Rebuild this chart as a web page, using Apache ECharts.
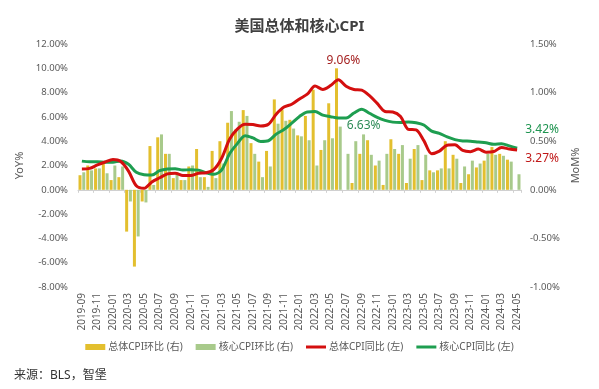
<!DOCTYPE html>
<html>
<head>
<meta charset="utf-8">
<script src="https://cdn.jsdelivr.net/npm/echarts@6/dist/echarts.min.js"></script>
<style>
html,body{margin:0;padding:0;background:#fff;}
#chart{width:599px;height:389px;}
</style>
</head>
<body>
<div id="chart"></div>
<script>
// Categories (months)
const months = [
  '2019-09','2019-10','2019-11','2019-12',
  '2020-01','2020-02','2020-03','2020-04','2020-05','2020-06','2020-07','2020-08','2020-09','2020-10','2020-11','2020-12',
  '2021-01','2021-02','2021-03','2021-04','2021-05','2021-06','2021-07','2021-08','2021-09','2021-10','2021-11','2021-12',
  '2022-01','2022-02','2022-03','2022-04','2022-05','2022-06','2022-07','2022-08','2022-09','2022-10','2022-11','2022-12',
  '2023-01','2023-02','2023-03','2023-04','2023-05','2023-06','2023-07','2023-08','2023-09','2023-10','2023-11','2023-12',
  '2024-01','2024-02','2024-03','2024-04','2024-05'
];
// Headline CPI MoM (%), right axis
const headlineMoM = [
  0.15,0.25,0.22,0.29,
  0.10,0.13,-0.43,-0.79,-0.12,0.45,0.54,0.37,0.12,0.10,0.24,0.42,
  0.13,0.40,0.50,0.69,0.62,0.82,0.48,0.29,0.40,0.93,0.82,0.72,
  0.56,0.76,1.03,0.41,0.89,1.25,0.00,0.07,0.37,0.51,0.25,0.05,
  0.52,0.37,0.07,0.42,0.10,0.20,0.20,0.50,0.36,0.07,0.16,0.23,
  0.30,0.44,0.37,0.31,0.00
];
// Core CPI MoM (%), right axis
const coreMoM = [
  0.18,0.20,0.22,0.17,
  0.25,0.24,-0.12,-0.48,-0.13,0.05,0.57,0.37,0.18,0.10,0.25,0.13,
  0.03,0.12,0.27,0.81,0.70,0.76,0.37,0.13,0.24,0.68,0.71,0.63,
  0.55,0.51,0.25,0.51,0.53,0.65,0.37,0.50,0.57,0.36,0.30,0.37,
  0.42,0.46,0.32,0.46,0.36,0.18,0.22,0.22,0.32,0.24,0.30,0.27,
  0.37,0.36,0.35,0.29,0.16
];
// Headline CPI YoY (%), left axis
const headlineYoY = [
  1.71,1.76,2.05,2.29,
  2.49,2.33,1.54,0.33,0.12,0.65,0.99,1.31,1.37,1.18,1.17,1.36,
  1.40,1.68,2.62,4.16,4.99,5.39,5.37,5.25,5.39,6.22,6.81,7.04,
  7.48,7.87,8.54,8.26,8.58,9.06,8.52,8.26,8.20,7.75,7.11,6.45,
  6.41,6.04,4.98,4.93,4.05,2.97,3.18,3.67,3.70,3.24,3.14,3.35,
  3.09,3.15,3.48,3.36,3.27
];
// Core CPI YoY (%), left axis
const coreYoY = [
  2.36,2.30,2.30,2.26,
  2.27,2.37,2.10,1.44,1.24,1.21,1.57,1.71,1.73,1.63,1.65,1.62,
  1.40,1.28,1.65,2.96,3.80,4.45,4.27,3.98,4.04,4.58,4.96,5.48,
  6.04,6.41,6.44,6.14,6.02,5.91,5.90,6.32,6.63,6.30,5.96,5.71,
  5.57,5.54,5.59,5.52,5.33,4.83,4.65,4.35,4.13,4.02,4.00,3.93,
  3.87,3.75,3.80,3.62,3.42
];
const seriesNames = ['总体CPI环比 (右)','核心CPI环比 (右)','总体CPI同比 (左)','核心CPI同比 (左)'];
const titleText = '美国总体和核心CPI';
const sourceText = '来源：BLS，智堡';

const GOLD = '#E3BF2E', LGREEN = '#A8CA8B', RED = '#D40F0F', GREEN = '#1E9E50';
const AX = '#595959';
const FONT = '"Noto Sans","Noto Sans CJK SC",sans-serif';
const LINE_ICON = 'path://M0,0 L20,0 L20,3 L0,3 Z';

const chart = echarts.init(document.getElementById('chart'), null, {renderer:'canvas'});
const pct = v => v.toFixed(2) + '%';

chart.setOption({
  animation: false,
  textStyle: {fontFamily: FONT},
  title: [
    {text: titleText, left: 'center', top: 14,
     textStyle: {fontSize: 15, fontWeight: 'bold', color: '#404040', fontFamily: FONT}},
    {text: sourceText, left: 9, top: 365,
     textStyle: {fontSize: 12, fontWeight: 'normal', color: '#333', fontFamily: FONT}}
  ],
  legend: {
    top: 337, left: 'center', itemGap: 13, itemWidth: 20, itemHeight: 6,
    symbolKeepAspect: true,
    textStyle: {fontSize: 10, color: AX, padding: [0, 0, 0, -2]},
    data: [
      {name: seriesNames[0], icon: 'rect'},
      {name: seriesNames[1], icon: 'rect'},
      {name: seriesNames[2], icon: LINE_ICON},
      {name: seriesNames[3], icon: LINE_ICON}
    ]
  },
  grid: {left: 78, right: 78, top: 44, height: 243, containLabel: false},
  xAxis: [
    {type: 'category', data: months, position: 'bottom',
     axisLine: {show: false, onZero: false}, axisTick: {show: false},
     axisLabel: {interval: 1, rotate: 90, fontSize: 10, color: AX, margin: 6}},
    {type: 'category', data: months, position: 'top',
     axisLine: {show: true, onZero: true, lineStyle: {color: '#D0D0D0', width: 1}},
     axisTick: {show: true, inside: true, interval: 1, length: 3, lineStyle: {color: '#D0D0D0'}},
     axisLabel: {show: false}}
  ],
  yAxis: [
    {type: 'value', min: -8, max: 12, interval: 2, position: 'left',
     name: 'YoY%', nameLocation: 'middle', nameGap: 42, nameRotate: 90,
     nameTextStyle: {fontSize: 11, color: AX},
     axisLine: {show: false}, axisTick: {show: false}, splitLine: {show: false},
     axisLabel: {formatter: pct, fontSize: 9.5, color: AX, margin: 10}},
    {type: 'value', min: -1, max: 1.5, interval: 0.5, position: 'right',
     name: 'MoM%', nameLocation: 'middle', nameGap: 42, nameRotate: 90,
     nameTextStyle: {fontSize: 11, color: AX},
     axisLine: {show: false}, axisTick: {show: false}, splitLine: {show: false},
     axisLabel: {formatter: pct, fontSize: 9.5, color: AX, margin: 9}}
  ],
  series: [
    {name: seriesNames[0], type: 'bar', xAxisIndex: 0, yAxisIndex: 1, data: headlineMoM,
     barWidth: 3, barGap: '25%', itemStyle: {color: GOLD}, z: 2},
    {name: seriesNames[1], type: 'bar', xAxisIndex: 0, yAxisIndex: 1, data: coreMoM,
     barWidth: 3, barGap: '25%', itemStyle: {color: LGREEN}, z: 2},
    {name: seriesNames[2], type: 'line', xAxisIndex: 0, yAxisIndex: 0, data: headlineYoY,
     symbol: 'none', smooth: 0.3, lineStyle: {color: RED, width: 3}, itemStyle: {color: RED}, z: 4,
     markPoint: {symbol: 'circle', symbolSize: 0, silent: true,
       label: {show: true, formatter: p => pct(p.value), fontSize: 12, position: 'inside'},
       data: [
         {coord: [months[33], headlineYoY[33]], value: headlineYoY[33],
          label: {color: '#A52222', offset: [5, -19]}},
         {coord: [months[56], headlineYoY[56]], value: headlineYoY[56],
          label: {color: '#C01818', offset: [25, 9]}}
       ]}},
    {name: seriesNames[3], type: 'line', xAxisIndex: 0, yAxisIndex: 0, data: coreYoY,
     symbol: 'none', smooth: 0.3, lineStyle: {color: GREEN, width: 3}, itemStyle: {color: GREEN}, z: 3,
     markPoint: {symbol: 'circle', symbolSize: 0, silent: true,
       label: {show: true, formatter: p => pct(p.value), fontSize: 12, position: 'inside'},
       data: [
         {coord: [months[36], coreYoY[36]], value: coreYoY[36],
          label: {color: '#2E8B57', offset: [2, 16]}},
         {coord: [months[56], coreYoY[56]], value: coreYoY[56],
          label: {color: '#1E9450', offset: [25, -19]}}
       ]}}
  ]
});
</script>
</body>
</html>
